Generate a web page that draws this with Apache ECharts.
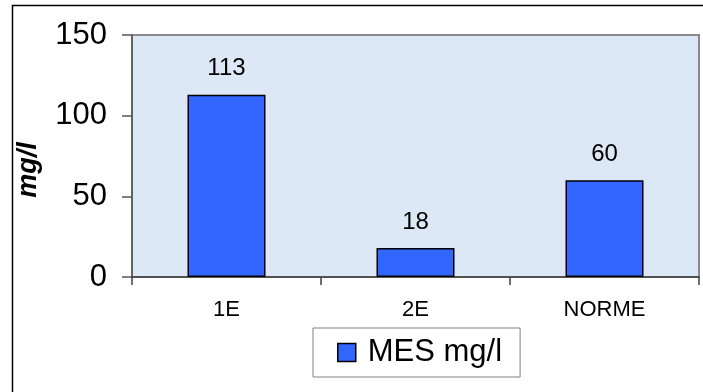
<!DOCTYPE html>
<html>
<head>
<meta charset="utf-8">
<script src="https://cdn.jsdelivr.net/npm/echarts@6/dist/echarts.min.js"></script>
<style>
  html, body { margin: 0; padding: 0; background: #ffffff; }
  #chart { width: 703px; height: 392px; }
</style>
</head>
<body>
<div id="chart"></div>
<script>
// Suspended solids (MES) per sample point, compared with the norm
const categories = ['1E', '2E', 'NORME'];
const mesValues = [113, 18, 60];
const seriesName = 'MES mg/l';
const yTicks = { min: 0, max: 150, interval: 50 };
const yTitle = 'mg/l';

const FONT = '"Liberation Sans", Arial, sans-serif';

const chart = echarts.init(document.getElementById('chart'), null, { renderer: 'canvas' });

chart.setOption({
  animation: false,
  backgroundColor: '#ffffff',
  textStyle: { fontFamily: FONT },
  grid: {
    left: 132, top: 35, right: 4, bottom: 115,
    show: true,
    backgroundColor: '#DCE8F6',
    borderColor: '#8a8a8a',
    borderWidth: 2
  },
  graphic: [
    // frame around the whole chart
    {
      type: 'rect', z: -10,
      shape: { x: 12.5, y: 5.5, width: 720, height: 420 },
      style: { fill: 'none', stroke: '#000000', lineWidth: 1.5 }
    },
    // vertical axis title
    {
      type: 'text', z: 10,
      x: 29, y: 170, rotation: Math.PI / 2,
      style: {
        text: yTitle, fontFamily: FONT, fontSize: 27,
        fontWeight: 'bold', fontStyle: 'italic', fill: '#000000',
        align: 'center', verticalAlign: 'middle'
      }
    }
  ],
  legend: {
    data: [seriesName],
    left: 313, top: 328,
    padding: [9, 18, 9, 24],
    borderColor: '#808080', borderWidth: 1,
    backgroundColor: '#ffffff',
    icon: 'rect', itemWidth: 18, itemHeight: 18,
    itemStyle: { borderColor: '#000000', borderWidth: 1.5 },
    textStyle: { fontFamily: FONT, fontSize: 31, color: '#000000', padding: [0, 0, 0, 7] }
  },
  xAxis: {
    type: 'category',
    data: categories,
    boundaryGap: true,
    axisLine: { lineStyle: { color: '#404040', width: 1.5 } },
    axisTick: { show: true, length: 8, lineStyle: { color: '#404040', width: 1.5 } },
    axisLabel: { fontFamily: FONT, fontSize: 22, color: '#000000', margin: 22 },
    splitLine: { show: false }
  },
  yAxis: {
    type: 'value',
    min: yTicks.min, max: yTicks.max, interval: yTicks.interval,
    axisLine: { show: true, lineStyle: { color: '#555555', width: 1.5 } },
    axisTick: { show: true, length: 10, lineStyle: { color: '#555555', width: 1.5 } },
    axisLabel: { fontFamily: FONT, fontSize: 31, color: '#000000', margin: 25 },
    splitLine: { show: false }
  },
  series: [{
    name: seriesName,
    type: 'bar',
    data: mesValues,
    barWidth: 78,
    itemStyle: { color: '#3366FF', borderColor: '#000000', borderWidth: 1.5 },
    label: {
      show: true, position: 'top', distance: 14,
      fontFamily: FONT, fontSize: 24, color: '#000000'
    }
  }]
});
</script>
</body>
</html>
